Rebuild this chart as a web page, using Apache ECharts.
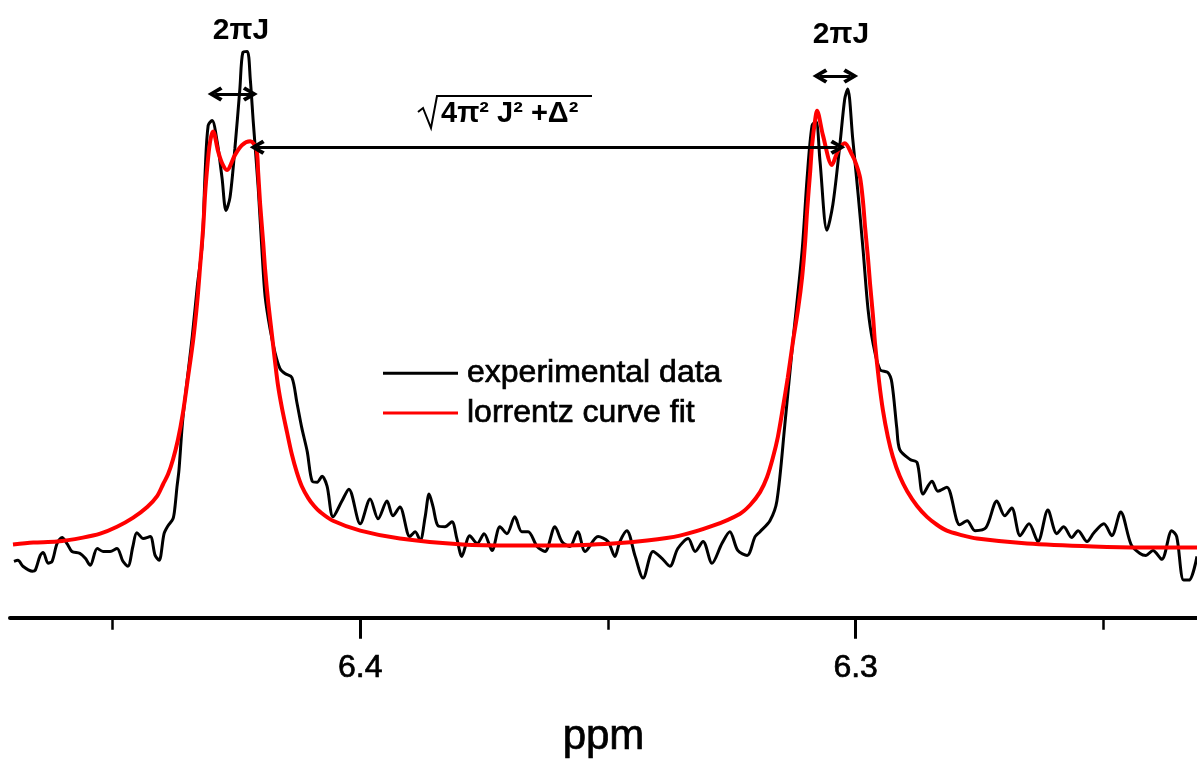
<!DOCTYPE html>
<html><head><meta charset="utf-8">
<script src="https://cdn.jsdelivr.net/npm/echarts@6/dist/echarts.min.js"></script>
<style>html,body{margin:0;padding:0;background:#fff}#c{width:1197px;height:764px}</style>
</head><body><div id="c"></div>
<script>
// experimental trace (ppm, intensity a.u.)
const expPpm = [6.4699,6.4691,6.4681,6.4662,6.4656,6.4646,6.4640,6.4630,6.4622,6.4612,6.4602,6.4592,6.4582,6.4566,6.4555,6.4545,6.4531,6.4519,6.4505,6.4491,6.4479,6.4469,6.4459,6.4451,6.4438,6.4424,6.4414,6.4406,6.4396,6.4388,6.4378,6.4374,6.4370,6.4366,6.4358,6.4339,6.4329,6.4319,6.4313,6.4307,6.4299,6.4289,6.4279,6.4271,6.4263,6.4253,6.4243,6.4237,6.4228,6.4222,6.4216,6.4206,6.4198,6.4192,6.4182,6.4172,6.4162,6.4152,6.4138,6.4128,6.4118,6.4107,6.4097,6.4087,6.4077,6.4067,6.4055,6.4037,6.4023,6.4000,6.3980,6.3964,6.3946,6.3934,6.3920,6.3900,6.3889,6.3879,6.3869,6.3861,6.3853,6.3843,6.3829,6.3815,6.3805,6.3795,6.3779,6.3764,6.3750,6.3734,6.3718,6.3704,6.3688,6.3674,6.3661,6.3643,6.3627,6.3607,6.3593,6.3577,6.3561,6.3546,6.3520,6.3500,6.3486,6.3476,6.3462,6.3445,6.3429,6.3409,6.3391,6.3375,6.3359,6.3338,6.3324,6.3308,6.3290,6.3270,6.3254,6.3238,6.3219,6.3203,6.3193,6.3173,6.3159,6.3143,6.3127,6.3108,6.3098,6.3088,6.3080,6.3072,6.3058,6.3046,6.3032,6.3022,6.3016,6.3006,6.2995,6.2985,6.2975,6.2965,6.2951,6.2935,6.2927,6.2917,6.2911,6.2890,6.2876,6.2864,6.2846,6.2834,6.2816,6.2790,6.2775,6.2759,6.2737,6.2715,6.2699,6.2685,6.2668,6.2650,6.2632,6.2612,6.2594,6.2580,6.2564,6.2551,6.2533,6.2519,6.2499,6.2483,6.2465,6.2444,6.2426,6.2414,6.2400,6.2382,6.2362,6.2352,6.2338,6.2327,6.2311];
const expInt = [-1.6,-1.4,-2.6,-3.6,-3.4,-0.4,0.2,-2.0,-1.6,2.0,3.2,2.0,0.4,0.0,-1.0,-2.4,1.0,0.4,0.4,1.0,-1.6,-2.6,1.4,4.2,3.0,3.4,-0.4,-1.4,4.0,5.6,7.0,9.4,13.4,16.8,27.4,44.0,54.0,62.6,77.4,86.6,87.6,83.4,76.0,69.4,72.0,82.0,94.0,101.4,101.6,96.0,87.4,74.0,60.6,52.0,45.4,40.6,37.4,36.4,35.6,30.6,25.4,20.6,14.6,14.4,15.6,13.6,7.4,10.6,13.0,6.0,11.0,7.0,10.6,7.6,9.4,3.4,4.4,2.6,7.4,12.0,9.4,5.6,5.4,6.4,3.0,-0.6,3.6,2.0,4.0,0.6,5.4,4.0,7.4,4.4,4.4,1.4,0.4,5.4,2.4,1.4,4.4,0.4,3.4,2.4,-0.6,2.4,4.6,-0.6,-5.0,0.4,-1.0,-2.6,1.0,3.0,0.4,2.4,-2.0,2.0,4.4,0.6,-0.4,3.4,4.4,6.6,10.6,26.0,42.6,61.4,76.0,86.6,87.4,79.4,65.4,70.6,82.6,92.0,94.0,84.0,72.6,61.4,49.4,42.6,37.2,36.6,34.6,25.4,21.0,19.0,18.4,12.0,14.6,12.6,13.4,5.8,6.6,4.6,5.2,10.6,7.6,9.2,3.6,6.0,2.4,8.8,4.0,5.4,3.2,4.6,2.4,4.2,6.0,3.6,8.4,1.8,0.0,-0.4,0.6,-1.2,4.6,3.4,-5.4,-5.4,-0.6];
// Lorentz fit (ppm, intensity a.u.)
const fitPpm = [6.4701,6.4660,6.4612,6.4560,6.4525,6.4491,6.4459,6.4430,6.4410,6.4398,6.4388,6.4378,6.4368,6.4358,6.4348,6.4337,6.4329,6.4323,6.4317,6.4313,6.4309,6.4305,6.4301,6.4297,6.4287,6.4279,6.4269,6.4253,6.4239,6.4222,6.4210,6.4206,6.4202,6.4196,6.4192,6.4186,6.4178,6.4172,6.4166,6.4158,6.4148,6.4138,6.4128,6.4118,6.4105,6.4093,6.4081,6.4055,6.4000,6.3920,6.3793,6.3692,6.3591,6.3490,6.3421,6.3355,6.3288,6.3234,6.3213,6.3193,6.3179,6.3167,6.3157,6.3147,6.3137,6.3127,6.3116,6.3108,6.3102,6.3098,6.3092,6.3088,6.3082,6.3078,6.3066,6.3048,6.3036,6.3022,6.3007,6.2999,6.2991,6.2985,6.2981,6.2975,6.2971,6.2965,6.2961,6.2953,6.2945,6.2935,6.2925,6.2911,6.2896,6.2876,6.2856,6.2836,6.2816,6.2790,6.2755,6.2654,6.2521,6.2420,6.2311];
const fitInt = [1.8,2.2,2.4,3.2,4.0,5.4,7.2,9.4,11.6,14.0,16.0,19.0,23.0,28.4,35.4,43.4,51.0,58.4,66.0,73.0,78.0,82.0,84.4,85.4,81.4,79.0,77.6,80.6,82.6,83.4,82.0,77.0,70.6,63.0,57.4,51.0,44.0,38.8,34.0,29.4,24.6,20.0,16.4,13.6,11.2,9.6,8.4,6.6,4.6,3.0,1.8,1.6,1.6,2.0,2.6,3.6,5.6,8.0,9.8,12.4,15.4,19.4,23.6,29.4,35.6,42.6,49.6,56.0,63.0,69.4,77.0,82.6,87.6,89.6,84.6,78.6,81.4,83.0,80.6,78.8,76.0,71.0,66.0,59.6,54.6,48.0,42.6,35.0,29.0,23.6,19.6,15.6,12.6,9.6,7.4,5.8,4.6,3.8,3.0,2.0,1.4,1.2,1.2];
const seriesNames = ['experimental data', 'lorrentz curve fit'];
const majorTicks = [6.4, 6.3];
const minorTicks = [6.45, 6.35, 6.25];
const xName = 'ppm';
// annotation arrows (ppm start, ppm end, level)
const arrowStart = [6.4293, 6.3072, 6.4208];
const arrowEnd = [6.4222, 6.3010, 6.3036];
const arrowLevel = [93, 96.6, 82.2];
const couplingLabel = '2πJ';
const splitLabel = '4π² J² +Δ²';

const F = '"Liberation Sans", Arial, Helvetica, sans-serif';
const chart = echarts.init(document.getElementById('c'), null, {renderer: 'canvas'});
const expData = expPpm.map((p, i) => [p, expInt[i]]);
const fitData = fitPpm.map((p, i) => [p, fitInt[i]]);
const CHEV = 'path://M7,0 L14,11 L11,13 L7,6 L3,13 L0,11 Z';
const XMIN = 6.2311, XMAX = 6.4707;
const heavy = {textBorderColor: '#000', textBorderWidth: 0.7};

chart.setOption({
  animation: false,
  backgroundColor: '#fff',
  grid: {left: 10, right: 0, top: 0, bottom: 139},
  legend: {
    orient: 'vertical', left: 383, top: 357, padding: 0,
    itemWidth: 75, itemHeight: 3, itemGap: 7, icon: 'rect',
    textStyle: Object.assign({fontSize: 32, lineHeight: 32, color: '#000', fontFamily: F, padding: [0, 0, 0, 4]}, heavy),
    data: seriesNames, selectedMode: false
  },
  xAxis: [{
    type: 'value', min: XMIN, max: XMAX, inverse: true, position: 'bottom',
    name: xName, nameLocation: 'middle', nameGap: 99,
    nameTextStyle: Object.assign({fontSize: 42, color: '#000', fontFamily: F}, heavy),
    axisLine: {show: true, onZero: false, lineStyle: {color: '#000', width: 4}},
    axisTick: {show: true, customValues: majorTicks, length: 21, lineStyle: {color: '#000', width: 3}},
    axisLabel: Object.assign({show: true, customValues: majorTicks, margin: 35, fontSize: 32, color: '#000', fontFamily: F,
      formatter: v => Number(v).toFixed(1)}, heavy),
    splitLine: {show: false}
  }, {
    type: 'value', min: XMIN, max: XMAX, inverse: true, position: 'bottom', offset: 0,
    axisLine: {show: false, onZero: false},
    axisTick: {show: true, customValues: minorTicks, length: 12, lineStyle: {color: '#000', width: 2.5}},
    axisLabel: {show: false},
    splitLine: {show: false}
  }],
  yAxis: {type: 'value', min: -13, max: 112, show: false, splitLine: {show: false}},
  series: [{
    name: seriesNames[0], type: 'line', data: expData, showSymbol: false, symbol: 'none',
    smooth: 0.3, lineStyle: {color: '#000', width: 3}, itemStyle: {color: '#000'},
    markLine: {
      silent: true, symbol: [CHEV, CHEV], symbolSize: [15, 15],
      label: {show: false}, emphasis: {disabled: true},
      lineStyle: {color: '#000', width: 3, type: 'solid'},
      data: arrowStart.map((s, i) => [{coord: [s, arrowLevel[i]]}, {coord: [arrowEnd[i], arrowLevel[i]]}])
    }
  }, {
    name: seriesNames[1], type: 'line', data: fitData, showSymbol: false, symbol: 'none',
    smooth: 0.3, lineStyle: {color: '#ff0000', width: 4}, itemStyle: {color: '#ff0000'}
  }],
  graphic: [
    {type: 'text', x: 241, y: 31, style: {text: couplingLabel, font: 'bold 30px ' + F, fill: '#000', textAlign: 'center', textVerticalAlign: 'middle'}},
    {type: 'text', x: 841, y: 35, style: {text: couplingLabel, font: 'bold 30px ' + F, fill: '#000', textAlign: 'center', textVerticalAlign: 'middle'}},
    {type: 'polyline', shape: {points: [[418, 112], [423, 108], [431, 128], [437, 96], [592, 96]]}, style: {stroke: '#000', lineWidth: 2, fill: null}},
    {type: 'text', x: 441, y: 114, style: {text: splitLabel, font: 'bold 29px ' + F, fill: '#000', textAlign: 'left', textVerticalAlign: 'middle'}}
  ]
});
</script></body></html>
